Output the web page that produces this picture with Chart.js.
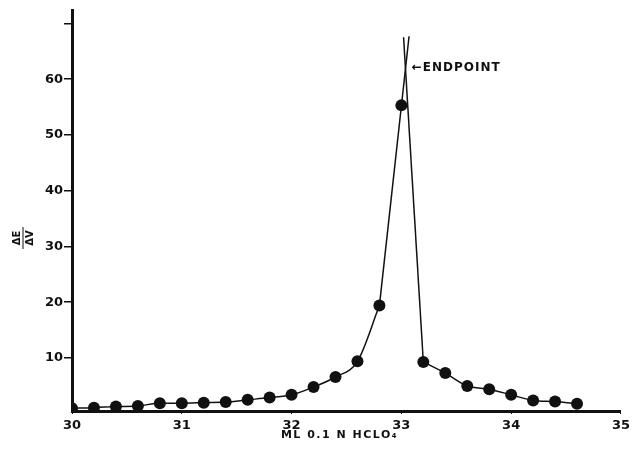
<!DOCTYPE html>
<html>
<head>
<meta charset="utf-8">
<script src="https://cdn.jsdelivr.net/npm/chart.js@4"></script>
<style>
  html, body { margin: 0; padding: 0; background: #fff; }
  #wrap { width: 634px; height: 449px; }
</style>
</head>
<body>
<div id="wrap"><canvas id="titrationChart"></canvas></div>
<script>
// measured points (ml of 0.1 N HClO4 vs dE/dV)
const mlAdded = [30.0, 30.2, 30.4, 30.6, 30.8, 31.0, 31.2, 31.4, 31.6, 31.8, 32.0, 32.2, 32.4, 32.6, 32.8, 33.0, 33.2, 33.4, 33.6, 33.8, 34.0, 34.2, 34.4, 34.6];
const dEdV = [1.0, 1.1, 1.3, 1.4, 1.9, 1.9, 2.0, 2.1, 2.5, 2.9, 3.4, 4.8, 6.6, 9.4, 19.4, 55.3, 9.3, 7.3, 5.0, 4.4, 3.4, 2.4, 2.2, 1.8];

// hand drawn straight lines crossing at the endpoint
const riseLineX = [32.8, 33.07];
const riseLineY = [19.4, 67.7];
const fallLineX = [33.02, 33.2];
const fallLineY = [67.5, 9.3];
const endpoint = { x: 33.04, y: 61.6 };

const xTicks = [30, 31, 32, 33, 34, 35];
const yTicks = [10, 20, 30, 40, 50, 60, 70];
const yLabelled = [10, 20, 30, 40, 50, 60];

const toPts = (xs, ys) => xs.map((x, i) => ({ x: x, y: ys[i] }));
const allPts = toPts(mlAdded, dEdV);
const leftCurve = allPts.filter(p => p.x <= 32.8);
const rightCurve = allPts.filter(p => p.x >= 33.2);

const ink = "#111";
const fontFam = "'DejaVu Sans', sans-serif";

const annotations = {
  id: "annotations",
  afterDraw(chart) {
    const { ctx, chartArea, scales } = chart;
    ctx.save();
    ctx.fillStyle = ink;
    ctx.strokeStyle = ink;

    // endpoint label
    ctx.font = "bold 12px " + fontFam;
    ctx.letterSpacing = "1px";
    ctx.textAlign = "left";
    ctx.textBaseline = "middle";
    const ex = scales.x.getPixelForValue(endpoint.x);
    const ey = scales.y.getPixelForValue(endpoint.y);
    ctx.fillText("\u2190ENDPOINT", ex + 6, ey - 2);

    // x title
    ctx.font = "bold 11px " + fontFam;
    ctx.letterSpacing = "1.5px";
    ctx.textAlign = "center";
    ctx.fillText("ML 0.1 N HCLO\u2084", (chartArea.left + chartArea.right) / 2 - 7, chartArea.bottom + 24);

    // y title as a rotated fraction
    ctx.letterSpacing = "0px";
    ctx.translate(23, 238);
    ctx.rotate(-Math.PI / 2);
    ctx.font = "bold 10px " + fontFam;
    ctx.fillText("\u0394E", 0, -6);
    ctx.fillText("\u0394V", 0, 7);
    ctx.lineWidth = 1;
    ctx.beginPath();
    ctx.moveTo(-11, 0);
    ctx.lineTo(11, 0);
    ctx.stroke();
    ctx.restore();
  }
};

const lineStyle = {
  showLine: true,
  borderColor: ink,
  borderWidth: 1.5,
  pointRadius: 0,
  fill: false
};

new Chart(document.getElementById("titrationChart").getContext("2d"), {
  type: "scatter",
  data: {
    datasets: [
      Object.assign({ label: "left", data: leftCurve, cubicInterpolationMode: "monotone" }, lineStyle),
      Object.assign({ label: "rise", data: toPts(riseLineX, riseLineY), tension: 0 }, lineStyle),
      Object.assign({ label: "fall", data: toPts(fallLineX, fallLineY), tension: 0 }, lineStyle),
      Object.assign({ label: "right", data: rightCurve, cubicInterpolationMode: "monotone" }, lineStyle),
      {
        label: "points",
        data: allPts,
        showLine: false,
        pointRadius: 6,
        pointBackgroundColor: ink,
        pointBorderWidth: 0,
        pointHoverRadius: 6
      }
    ]
  },
  options: {
    responsive: true,
    maintainAspectRatio: false,
    animation: false,
    layout: { padding: { top: 10, right: 12, left: 0, bottom: 0 } },
    plugins: {
      legend: { display: false },
      tooltip: { enabled: false }
    },
    scales: {
      x: {
        type: "linear",
        min: 30,
        max: 35,
        afterFit: (s) => { s.height = 38; },
        afterBuildTicks: (s) => { s.ticks = xTicks.map(v => ({ value: v })); },
        border: { display: true, color: ink, width: 3 },
        grid: { drawOnChartArea: false, drawTicks: true, tickLength: 3, color: ink, lineWidth: 1 },
        ticks: {
          color: ink,
          padding: 4,
          maxRotation: 0,
          font: { family: fontFam, size: 13, weight: "bold" }
        }
      },
      y: {
        type: "linear",
        min: 0.5,
        max: 72.4,
        afterFit: (s) => { s.width = 72; },
        afterBuildTicks: (s) => { s.ticks = yTicks.map(v => ({ value: v })); },
        border: { display: true, color: ink, width: 3 },
        grid: { drawOnChartArea: false, drawTicks: true, tickLength: 8, color: ink, lineWidth: 1.5 },
        ticks: {
          color: ink,
          padding: 1,
          font: { family: fontFam, size: 13, weight: "bold" },
          callback: (v) => (yLabelled.includes(v) ? String(v) : "")
        }
      }
    }
  },
  plugins: [annotations]
});
</script>
</body>
</html>
